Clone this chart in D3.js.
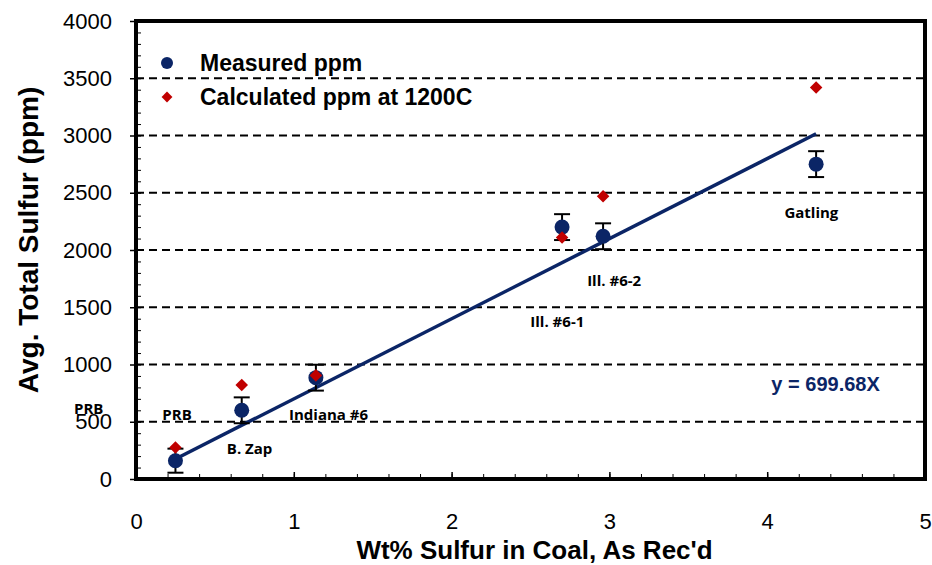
<!DOCTYPE html>
<html>
<head>
<meta charset="utf-8">
<script src="https://cdn.jsdelivr.net/npm/d3@7"></script>
<style>
  body { margin: 0; background: #fff; }
  svg { display: block; font-family: "Liberation Sans", Arial, sans-serif; }
  .tick text { fill: #000; }
</style>
</head>
<body>
<svg id="chart" width="932" height="565"></svg>
<script>
// 数据
const coals = ['PRB', 'B. Zap', 'Indiana #6', 'Ill. #6-1', 'Ill. #6-2', 'Gatling'];
const sulfurWt = [0.25, 0.67, 1.14, 2.70, 2.96, 4.31];
const measured = [160, 600, 885, 2200, 2120, 2750];
const measuredErr = [105, 113, 113, 113, 113, 113];
const calculated = [275, 820, 905, 2110, 2470, 3420];
const slope = 699.68;

// 标签位置（数据坐标）
const labelX = [0.26, 0.72, 1.22, 2.67, 3.03, 4.28];
const labelY = [513, 217, 513, 1330, 1687, 2278];

const xTicks = [0, 1, 2, 3, 4, 5];
const yTicks = [0, 500, 1000, 1500, 2000, 2500, 3000, 3500, 4000];

const margin = { top: 21, right: 7, bottom: 86, left: 136 };
const width = 932 - margin.left - margin.right;
const height = 565 - margin.top - margin.bottom;

const navy = '#0b2566';
const red = '#c00000';

const svg = d3.select('#chart')
  .append('g')
  .attr('transform', `translate(${margin.left},${margin.top})`);

const x = d3.scaleLinear().domain([0, 5]).range([0, width]);
const y = d3.scaleLinear().domain([0, 4000]).range([height, 0]);

// 网格线
svg.append('g')
  .selectAll('line')
  .data(yTicks.slice(1, -1))
  .join('line')
  .attr('x1', 0)
  .attr('x2', width)
  .attr('y1', (d) => y(d))
  .attr('y2', (d) => y(d))
  .attr('stroke', '#000')
  .attr('stroke-width', 2)
  .attr('stroke-dasharray', '8,5');

// 次刻度
svg.append('g')
  .call(d3.axisLeft(y).ticks(40).tickSize(-5).tickFormat(''))
  .call((g) => g.select('.domain').remove());
svg.append('g')
  .attr('transform', `translate(0,${height})`)
  .call(d3.axisBottom(x).ticks(25).tickSize(-5).tickFormat(''))
  .call((g) => g.select('.domain').remove());

// 坐标轴
svg.append('g')
  .call(d3.axisLeft(y).tickValues(yTicks).tickFormat(d3.format('d'))
    .tickSizeInner(6).tickSizeOuter(0).tickPadding(18))
  .call((g) => g.select('.domain').remove())
  .call((g) => g.selectAll('.tick line').attr('stroke-width', 1.5))
  .call((g) => g.selectAll('text').style('font-size', '22px'));

svg.append('g')
  .attr('transform', `translate(0,${height})`)
  .call(d3.axisBottom(x).tickValues(xTicks).tickFormat(d3.format('d'))
    .tickSizeInner(-7).tickSizeOuter(0).tickPadding(34))
  .call((g) => g.select('.domain').remove())
  .call((g) => g.selectAll('.tick line').attr('stroke-width', 1.5))
  .call((g) => g.selectAll('text').style('font-size', '22px'));

// 边框
svg.append('rect')
  .attr('x', 0)
  .attr('y', 0)
  .attr('width', width)
  .attr('height', height)
  .attr('fill', 'none')
  .attr('stroke', '#000')
  .attr('stroke-width', 4);

// 趋势线
const xMin = d3.min(sulfurWt);
const xMax = d3.max(sulfurWt);
svg.append('line')
  .attr('x1', x(xMin))
  .attr('y1', y(slope * xMin))
  .attr('x2', x(xMax))
  .attr('y2', y(slope * xMax))
  .attr('stroke', navy)
  .attr('stroke-width', 3.5);

// 误差线
const err = svg.append('g').attr('stroke', '#000').attr('stroke-width', 2);
sulfurWt.forEach((d, i) => {
  const cx = x(d);
  const lo = y(measured[i] - measuredErr[i]);
  const hi = y(measured[i] + measuredErr[i]);
  err.append('line').attr('x1', cx).attr('x2', cx).attr('y1', lo).attr('y2', hi);
  err.append('line').attr('x1', cx - 8).attr('x2', cx + 8).attr('y1', lo).attr('y2', lo);
  err.append('line').attr('x1', cx - 8).attr('x2', cx + 8).attr('y1', hi).attr('y2', hi);
});

// 实测点
svg.append('g')
  .selectAll('circle')
  .data(sulfurWt)
  .join('circle')
  .attr('cx', (d) => x(d))
  .attr('cy', (d, i) => y(measured[i]))
  .attr('r', 7.5)
  .attr('fill', navy);

// 计算点
const diamond = d3.symbol().type(d3.symbolDiamond2).size(100);
svg.append('g')
  .selectAll('path')
  .data(sulfurWt)
  .join('path')
  .attr('d', diamond)
  .attr('transform', (d, i) => `translate(${x(d)},${y(calculated[i])})`)
  .attr('fill', red);

// 样品标签
svg.append('g')
  .selectAll('text')
  .data(coals)
  .join('text')
  .attr('x', (d, i) => x(labelX[i]))
  .attr('y', (d, i) => y(labelY[i]))
  .attr('text-anchor', 'middle')
  .style('font-family', '"Open Sans", sans-serif')
  .style('font-weight', 'bold')
  .style('font-size', '15px')
  .text((d) => d);

// 轴旁的 PRB
svg.append('text')
  .attr('x', x(-0.3))
  .attr('y', y(570))
  .attr('text-anchor', 'middle')
  .style('font-family', '"Open Sans", sans-serif')
  .style('font-weight', 'bold')
  .style('font-size', '15px')
  .text(coals[0]);

// 公式
svg.append('text')
  .attr('x', x(4.37))
  .attr('y', y(765))
  .attr('text-anchor', 'middle')
  .attr('fill', navy)
  .style('font-weight', 'bold')
  .style('font-size', '20px')
  .text(`y = ${slope}X`);

// 图例
const legend = svg.append('g').attr('transform', 'translate(31,42)');
legend.append('circle').attr('cx', 0).attr('cy', 0).attr('r', 6).attr('fill', navy);
legend.append('path')
  .attr('d', d3.symbol().type(d3.symbolDiamond2).size(75))
  .attr('transform', 'translate(0,34)')
  .attr('fill', red);
legend.append('text')
  .attr('x', 33).attr('y', 8)
  .style('font-weight', 'bold').style('font-size', '23px')
  .text('Measured ppm');
legend.append('text')
  .attr('x', 33).attr('y', 42)
  .style('font-weight', 'bold').style('font-size', '23px')
  .text('Calculated ppm at 1200C');

// 轴标题
svg.append('text')
  .attr('x', width / 2 + 4)
  .attr('y', height + 80)
  .attr('text-anchor', 'middle')
  .style('font-weight', 'bold')
  .style('font-size', '26px')
  .text("Wt% Sulfur in Coal, As Rec'd");

svg.append('text')
  .attr('transform', 'rotate(-90)')
  .attr('x', -(height / 2) + 10)
  .attr('y', -margin.left + 38)
  .attr('text-anchor', 'middle')
  .style('font-weight', 'bold')
  .style('font-size', '28px')
  .text('Avg. Total Sulfur (ppm)');
</script>
</body>
</html>
